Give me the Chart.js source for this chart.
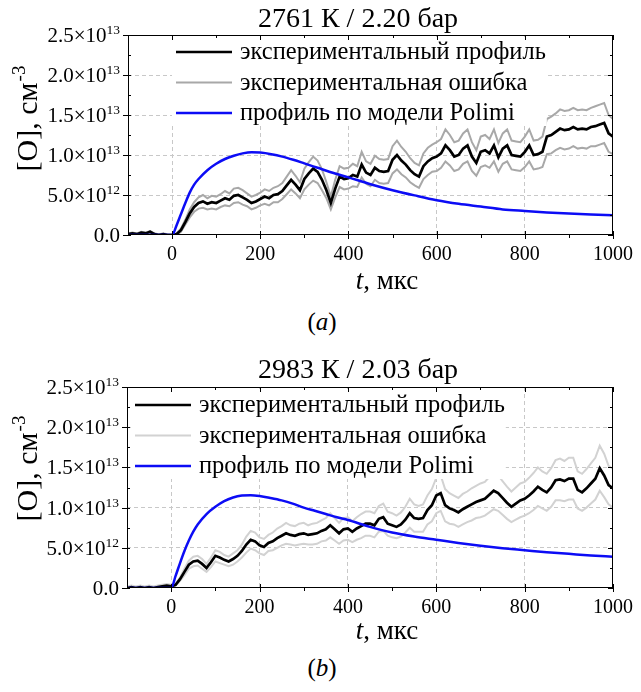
<!DOCTYPE html>
<html>
<head>
<meta charset="utf-8">
<script src="https://cdn.jsdelivr.net/npm/chart.js@4.4.0/dist/chart.umd.min.js"></script>
<style>
  body { margin: 0; background: #fff; width: 641px; height: 692px; position: relative; overflow: hidden; font-family: "Liberation Serif", serif; }
  .panel { position: absolute; left: 0; width: 641px; height: 300px; }
  .cap { position: absolute; left: 0; width: 644px; text-align: center; font-size: 25px; line-height: 26px; }
</style>
</head>
<body>
<div class="panel" style="top:0"><canvas id="chartA" width="641" height="300"></canvas></div>
<div class="cap" style="top:309px">(<i>a</i>)</div>
<div class="panel" style="top:350px"><canvas id="chartB" width="641" height="300"></canvas></div>
<div class="cap" style="top:655px">(<i>b</i>)</div>
<script>
// time grid of the measured profiles, mks
const timeUs = Array.from({ length: 111 }, (_, i) => -100 + 10 * i);

// [O] values are in units of 1e12 cm^-3
// (a) 2761 K / 2.20 bar
const profileA = [0.1, 0.2, 0.1, 0.3, 0.2, 0.4, 0.1, 0.0, 0.1, 0.0, 0.0,
  0.1, 0.6, 1.6, 2.7, 3.5, 4.0, 4.2, 3.9, 4.1, 4.0,
  4.3, 4.6, 4.4, 4.9, 5.0, 4.7, 4.4, 4.0, 4.2, 4.5,
  4.8, 4.6, 5.0, 5.1, 5.5, 6.2, 6.9, 6.3, 5.6, 7.0,
  7.7, 8.3, 7.9, 6.9, 5.6, 4.0, 5.8, 7.3, 7.0, 7.1,
  7.5, 7.3, 8.8, 7.8, 7.5, 8.4, 8.0, 7.9, 8.0, 9.4,
  10.0, 9.3, 8.8, 8.1, 7.6, 7.3, 8.6, 9.2, 9.6, 9.8,
  10.2, 11.2, 10.6, 9.8, 10.0, 10.8, 11.2, 9.8, 9.0, 10.4,
  10.6, 10.2, 11.2, 9.7, 10.8, 11.2, 10.0, 9.9, 9.8, 10.4,
  11.2, 10.0, 10.1, 10.4, 12.3, 12.5, 12.9, 13.3, 13.1, 13.2,
  13.5, 13.2, 13.3, 13.2, 13.5, 13.6, 13.8, 14.0, 12.7, 12.3];
const errorA = [0.1, 0.1, 0.1, 0.1, 0.1, 0.1, 0.1, 0.1, 0.1, 0.1, 0.1,
  0.1, 0.2, 0.3, 0.5, 0.6, 0.7, 0.8, 0.7, 0.8, 0.8,
  0.8, 0.9, 0.8, 0.9, 0.9, 0.9, 0.8, 0.8, 0.8, 0.8,
  0.9, 0.9, 0.9, 1.0, 1.0, 1.1, 1.2, 1.1, 1.0, 1.3,
  1.4, 1.5, 1.4, 1.3, 1.0, 0.8, 1.1, 1.3, 1.3, 1.3,
  1.4, 1.3, 1.6, 1.4, 1.4, 1.5, 1.5, 1.5, 1.5, 1.7,
  1.8, 1.7, 1.6, 1.5, 1.4, 1.4, 1.6, 1.7, 1.7, 1.8,
  1.8, 2.0, 1.9, 1.8, 1.8, 1.9, 2.0, 1.8, 1.6, 1.9,
  1.9, 1.8, 2.0, 1.8, 1.9, 2.0, 1.8, 1.8, 1.8, 1.9,
  2.0, 1.8, 1.8, 1.9, 2.2, 2.3, 2.3, 2.4, 2.4, 2.4,
  2.4, 2.4, 2.4, 2.4, 2.4, 2.5, 2.5, 2.5, 2.3, 2.2];
const modelTimeA = [-100, 0, 10, 20, 30, 40, 50, 60, 80, 100, 120, 140, 160, 180, 200, 225, 250, 275, 300, 330, 360, 400, 450, 500, 550, 600, 650, 700, 750, 800, 850, 900, 950, 1000];
const modelA = [0, 0, 1.2, 2.6, 4.0, 5.3, 6.3, 7.0, 8.1, 8.9, 9.5, 9.9, 10.2, 10.35, 10.3, 10.1, 9.8, 9.4, 8.95, 8.4, 7.85, 7.2, 6.35, 5.6, 4.95, 4.35, 3.9, 3.55, 3.2, 3.0, 2.82, 2.68, 2.57, 2.48];

// (b) 2983 K / 2.03 bar
const profileB = [0.0, 0.1, 0.0, 0.1, 0.0, 0.1, 0.0, 0.1, 0.2, 0.3, 0.2,
  0.4, 1.1, 2.0, 2.9, 3.3, 3.4, 3.0, 2.5, 3.2, 4.0,
  3.8, 3.5, 3.3, 3.6, 4.0, 4.6, 5.4, 6.0, 5.8, 5.3,
  5.1, 5.6, 5.8, 6.2, 6.5, 6.8, 6.6, 6.5, 6.7, 6.8,
  6.6, 6.7, 6.8, 7.1, 7.3, 7.8, 7.3, 6.8, 7.3, 7.4,
  7.0, 7.4, 7.7, 8.0, 8.0, 7.8, 8.6, 8.8, 8.0, 7.8,
  7.6, 7.9, 8.5, 9.3, 8.7, 8.6, 8.7, 9.7, 10.3, 11.5,
  11.8, 10.3, 9.9, 9.7, 9.4, 9.8, 10.1, 10.4, 10.7, 10.9,
  11.1, 11.6, 12.1, 11.8, 11.2, 10.6, 10.1, 10.5, 10.9, 11.1,
  11.5, 12.0, 12.6, 12.2, 11.9, 12.5, 13.4, 13.5, 13.3, 13.6,
  13.6, 12.2, 11.9, 12.4, 13.0, 13.6, 14.9, 14.0, 12.8, 12.4];
const errorB = [0.2, 0.2, 0.2, 0.2, 0.2, 0.2, 0.2, 0.2, 0.2, 0.2, 0.2,
  0.1, 0.2, 0.4, 0.5, 0.6, 0.6, 0.6, 0.5, 0.6, 0.7,
  0.7, 0.6, 0.6, 0.7, 0.7, 0.8, 1.0, 1.1, 1.1, 1.0,
  1.0, 1.0, 1.1, 1.2, 1.2, 1.3, 1.2, 1.2, 1.3, 1.3,
  1.2, 1.3, 1.3, 1.3, 1.4, 1.5, 1.4, 1.3, 1.4, 1.4,
  1.3, 1.4, 1.5, 1.5, 1.5, 1.5, 1.6, 1.7, 1.5, 1.5,
  1.4, 1.5, 1.6, 1.8, 1.7, 1.6, 1.7, 1.8, 2.0, 2.2,
  2.2, 2.0, 1.9, 1.8, 1.8, 1.9, 1.9, 2.0, 2.0, 2.1,
  2.1, 2.2, 2.3, 2.2, 2.1, 2.0, 1.9, 2.0, 2.1, 2.1,
  2.2, 2.3, 2.4, 2.3, 2.3, 2.4, 2.5, 2.6, 2.5, 2.6,
  2.6, 2.3, 2.3, 2.4, 2.5, 2.6, 2.8, 2.7, 2.4, 2.4];
const modelTimeB = [-100, 0, 10, 20, 30, 40, 50, 60, 80, 100, 120, 140, 160, 180, 200, 225, 250, 275, 300, 325, 350, 375, 400, 450, 500, 550, 600, 650, 700, 750, 800, 850, 900, 950, 1000];
const modelB = [0, 0, 1.5, 3.1, 4.6, 5.9, 7.0, 7.9, 9.2, 10.1, 10.8, 11.25, 11.5, 11.55, 11.45, 11.2, 10.9, 10.5, 10.0, 9.6, 9.2, 8.8, 8.45, 7.6, 6.9, 6.4, 6.0, 5.6, 5.25, 4.95, 4.7, 4.45, 4.25, 4.05, 3.9];

// axes
const xTicks = [0, 200, 400, 600, 800, 1000];
const xMinorTicks = [100, 300, 500, 700, 900];
const yTicks = [0, 5, 10, 15, 20, 25];
const yMinorTicks = [2.5, 7.5, 12.5, 17.5, 22.5];
const legendLabels = ['экспериментальный профиль', 'экспериментальная ошибка', 'профиль по модели Polimi'];

const SERIF = '"Liberation Serif", "Times New Roman", serif';
Chart.defaults.font.family = SERIF;
Chart.defaults.color = '#000';

// mantissa and exponent of a y tick (value in 1e12)
function yLabelParts(v) {
  if (v === 0) return ['0.0', ''];
  let m = v, e = 12;
  while (m >= 10) { m /= 10; e++; }
  return [m.toFixed(1) + '×10', String(e)];
}

const decor = {
  id: 'decor',
  afterDatasetsDraw(chart, args, o) {
    const { ctx, chartArea: a, scales: { x, y } } = chart;
    ctx.save();

    // legend, inside the plot, on white
    const lx = a.left + o.legendX, ly = a.top + o.legendY;
    ctx.font = '24.5px ' + SERIF;
    const textW = Math.max(...legendLabels.map(t => ctx.measureText(t).width));
    ctx.fillStyle = '#fff';
    ctx.fillRect(lx - 4, a.top + 2, 64 + textW + 5, ly - a.top + 2 * o.rowH + 11);
    const styles = [[o.colors[0], 2.5], [o.colors[1], 2], [o.colors[2], 2.5]];
    legendLabels.forEach((t, i) => {
      const yy = ly + i * o.rowH;
      ctx.beginPath();
      ctx.strokeStyle = styles[i][0];
      ctx.lineWidth = styles[i][1];
      ctx.moveTo(lx, yy);
      ctx.lineTo(lx + 56, yy);
      ctx.stroke();
      ctx.fillStyle = '#000';
      ctx.textBaseline = 'middle';
      ctx.fillText(t, lx + 64, yy + 1);
    });

    // frame and ticks
    ctx.strokeStyle = '#000';
    ctx.lineWidth = 1;
    ctx.strokeRect(a.left + 0.5, a.top + 0.5, a.width - 1, a.height - 1);
    ctx.beginPath();
    const seg = (x1, y1, x2, y2) => { ctx.moveTo(x1, y1); ctx.lineTo(x2, y2); };
    xTicks.forEach(v => {
      const px = Math.round(x.getPixelForValue(v)) + 0.5;
      seg(px, a.bottom - 4, px, a.bottom + 4);
      seg(px, a.top, px, a.top + 5);
    });
    xMinorTicks.forEach(v => {
      const px = Math.round(x.getPixelForValue(v)) + 0.5;
      seg(px, a.bottom, px, a.bottom + 3);
      seg(px, a.top, px, a.top + 3);
    });
    yTicks.forEach(v => {
      const py = Math.round(y.getPixelForValue(v)) + 0.5;
      seg(a.left - 5, py, a.left + 3, py);
      seg(a.right - 5, py, a.right, py);
    });
    yMinorTicks.forEach(v => {
      const py = Math.round(y.getPixelForValue(v)) + 0.5;
      seg(a.left, py, a.left + 3, py);
      seg(a.right - 3, py, a.right, py);
    });
    ctx.stroke();
    ctx.restore();
  },
  afterDraw(chart, args, o) {
    const { ctx, chartArea: a, scales: { y } } = chart;
    ctx.save();
    ctx.fillStyle = '#000';

    // y tick labels with superscript exponent
    ctx.textAlign = 'left';
    ctx.textBaseline = 'alphabetic';
    yTicks.forEach(v => {
      const py = y.getPixelForValue(v);
      const [m, e] = yLabelParts(v);
      ctx.font = '13.5px ' + SERIF;
      const we = e ? ctx.measureText(e).width : 0;
      ctx.font = '21px ' + SERIF;
      const wm = ctx.measureText(m).width;
      const right = a.left - 8;
      ctx.fillText(m, right - we - wm, py + 7);
      if (e) {
        ctx.font = '13.5px ' + SERIF;
        ctx.fillText(e, right - we, py - 1);
      }
    });

    // title
    ctx.font = '28px ' + SERIF;
    ctx.textAlign = 'center';
    ctx.fillText(o.title, 358, o.titleY);

    // x title: italic t
    ctx.textAlign = 'left';
    ctx.font = 'italic 27px ' + SERIF;
    const wt = ctx.measureText('t').width;
    ctx.font = '27px ' + SERIF;
    const wr = ctx.measureText(', мкс').width;
    const x0 = 387 - (wt + wr) / 2;
    ctx.font = 'italic 27px ' + SERIF;
    ctx.fillText('t', x0, 289);
    ctx.font = '27px ' + SERIF;
    ctx.fillText(', мкс', x0 + wt, 289);

    // y title with superscript
    ctx.translate(37, 119);
    ctx.rotate(-Math.PI / 2);
    ctx.font = '30px ' + SERIF;
    const wmt = ctx.measureText('[O], см').width;
    ctx.font = '19px ' + SERIF;
    const ws = ctx.measureText('-3').width;
    const s0 = -(wmt + ws) / 2;
    ctx.font = '30px ' + SERIF;
    ctx.fillText('[O], см', s0, 0);
    ctx.font = '19px ' + SERIF;
    ctx.fillText('-3', s0 + wmt + 1, -12);
    ctx.restore();
  }
};

function makeChart(id, p) {
  const pts = (ts, vs) => ts.map((t, i) => ({ x: t, y: vs[i] }));
  const upper = p.profile.map((v, i) => v + p.error[i]);
  const lower = p.profile.map((v, i) => v - p.error[i]);
  const gridColor = (lo, hi) => c => (c.tick.value === lo || c.tick.value === hi) ? 'rgba(0,0,0,0)' : '#c8c8c8';
  return new Chart(document.getElementById(id), {
    type: 'line',
    data: {
      datasets: [
        { label: legendLabels[2], data: pts(p.modelTime, p.model), borderColor: '#0c0cf5', borderWidth: 2.5, cubicInterpolationMode: 'monotone', order: 0 },
        { label: legendLabels[0], data: pts(timeUs, p.profile), borderColor: '#000', borderWidth: 2.7, order: 1 },
        { label: legendLabels[1], data: pts(timeUs, upper), borderColor: p.errColor, borderWidth: 2, order: 2 },
        { label: legendLabels[1], data: pts(timeUs, lower), borderColor: p.errColor, borderWidth: 2, order: 2 }
      ]
    },
    options: {
      responsive: false,
      animation: false,
      elements: { point: { radius: 0 }, line: { tension: 0 } },
      layout: { padding: { top: p.padTop, right: 22, left: 0, bottom: 0 } },
      scales: {
        x: {
          type: 'linear', min: -100, max: 1000,
          afterBuildTicks: s => { s.ticks = xTicks.map(v => ({ value: v })); },
          afterFit: s => { s.height = p.xHeight; },
          ticks: { autoSkip: false, maxRotation: 0, padding: 8, font: { family: SERIF, size: 20 }, color: '#000', callback: v => String(v) },
          grid: { drawTicks: false, color: gridColor(-100, 1000) },
          border: { display: false, dash: [4, 3] }
        },
        y: {
          min: 0, max: 25,
          afterBuildTicks: s => { s.ticks = yTicks.map(v => ({ value: v })); },
          afterFit: s => { s.width = p.yWidth; },
          ticks: { display: false },
          grid: { drawTicks: false, color: gridColor(0, 25) },
          border: { display: false, dash: [4, 3] }
        }
      },
      plugins: {
        legend: { display: false },
        tooltip: { enabled: false },
        decor: {
          title: p.title, titleY: p.titleY,
          legendX: p.legendX, legendY: p.legendY, rowH: 30.5,
          colors: ['#000', p.errColor, '#0c0cf5']
        }
      }
    },
    plugins: [decor]
  });
}

makeChart('chartA', {
  title: '2761 К / 2.20 бар', titleY: 27,
  profile: profileA, error: errorA, modelTime: modelTimeA, model: modelA,
  errColor: '#a8a8a8', padTop: 35, yWidth: 128, xHeight: 65, legendX: 48, legendY: 17
});
makeChart('chartB', {
  title: '2983 К / 2.03 бар', titleY: 28,
  profile: profileB, error: errorB, modelTime: modelTimeB, model: modelB,
  errColor: '#d2d2d2', padTop: 37, yWidth: 127, xHeight: 62, legendX: 8, legendY: 18
});
</script>
</body>
</html>
